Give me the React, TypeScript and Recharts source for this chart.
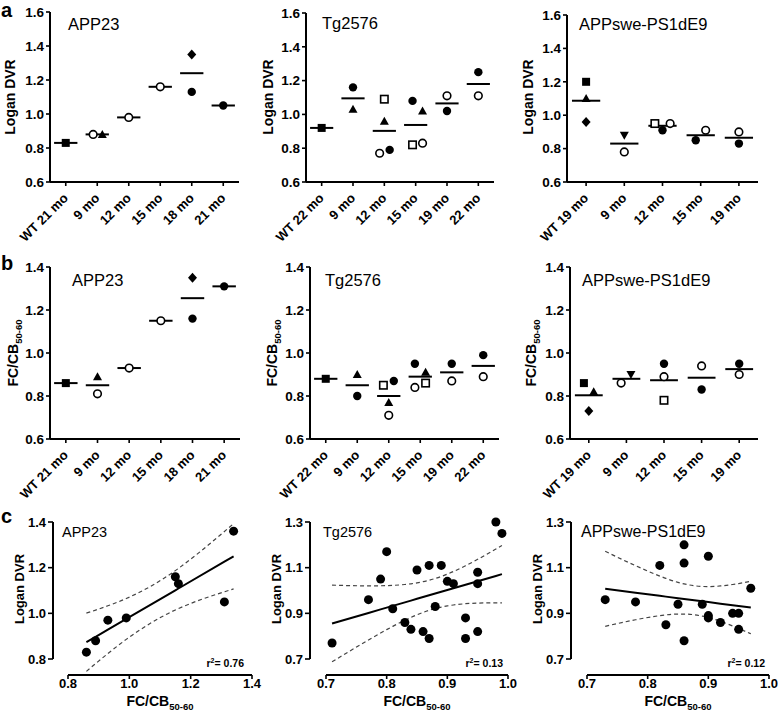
import React from 'react';
import { ScatterChart, ComposedChart, Scatter, Line, XAxis, YAxis, ReferenceLine } from 'recharts';

const FONT = '"Liberation Sans", Arial, Helvetica, sans-serif';

// ---------- categories ----------
const catsAPP23 = ['WT 21 mo', '9 mo', '12 mo', '15 mo', '18 mo', '21 mo'];
const catsTg2576 = ['WT 22 mo', '9 mo', '12 mo', '15 mo', '19 mo', '22 mo'];
const catsAPPswe = ['WT 19 mo', '9 mo', '12 mo', '15 mo', '19 mo'];

// markers: sq filled square, osq open square, ci filled circle, oci open circle,
// tr triangle, itr inverted triangle, di diamond
type Pt = { c: number; o: number; v: number; m: string };

// ---------- panel a: Logan DVR ----------
const dvrAPP23: Pt[] = [
  { c: 0, o: 0, v: 0.83, m: 'sq' },
  { c: 1, o: -0.13, v: 0.88, m: 'oci' }, { c: 1, o: 0.16, v: 0.88, m: 'tr' },
  { c: 2, o: 0, v: 0.98, m: 'oci' },
  { c: 3, o: 0, v: 1.16, m: 'oci' },
  { c: 4, o: 0, v: 1.35, m: 'di' }, { c: 4, o: 0, v: 1.13, m: 'ci' },
  { c: 5, o: 0, v: 1.05, m: 'ci' },
];
const dvrTg2576: Pt[] = [
  { c: 0, o: 0, v: 0.92, m: 'sq' },
  { c: 1, o: 0, v: 1.16, m: 'ci' }, { c: 1, o: 0, v: 1.03, m: 'tr' },
  { c: 2, o: 0, v: 1.09, m: 'osq' }, { c: 2, o: 0, v: 0.96, m: 'tr' },
  { c: 2, o: -0.15, v: 0.77, m: 'oci' }, { c: 2, o: 0.17, v: 0.79, m: 'ci' },
  { c: 3, o: -0.1, v: 1.08, m: 'ci' }, { c: 3, o: 0.22, v: 1.02, m: 'tr' },
  { c: 3, o: -0.1, v: 0.82, m: 'osq' }, { c: 3, o: 0.22, v: 0.83, m: 'oci' },
  { c: 4, o: 0, v: 1.11, m: 'oci' }, { c: 4, o: 0, v: 1.02, m: 'ci' },
  { c: 5, o: 0, v: 1.25, m: 'ci' }, { c: 5, o: 0, v: 1.11, m: 'oci' },
];
const dvrAPPswe: Pt[] = [
  { c: 0, o: 0, v: 1.2, m: 'sq' }, { c: 0, o: 0, v: 1.1, m: 'tr' }, { c: 0, o: 0, v: 0.96, m: 'di' },
  { c: 1, o: 0, v: 0.88, m: 'itr' }, { c: 1, o: 0, v: 0.78, m: 'oci' },
  { c: 2, o: -0.2, v: 0.95, m: 'osq' }, { c: 2, o: 0.2, v: 0.95, m: 'oci' }, { c: 2, o: 0, v: 0.91, m: 'ci' },
  { c: 3, o: -0.13, v: 0.85, m: 'ci' }, { c: 3, o: 0.13, v: 0.91, m: 'oci' },
  { c: 4, o: 0, v: 0.9, m: 'oci' }, { c: 4, o: 0, v: 0.83, m: 'ci' },
];

// ---------- panel b: FC/CB50-60 ----------
const fcAPP23: Pt[] = [
  { c: 0, o: 0, v: 0.86, m: 'sq' },
  { c: 1, o: 0, v: 0.89, m: 'tr' }, { c: 1, o: 0, v: 0.81, m: 'oci' },
  { c: 2, o: 0, v: 0.93, m: 'oci' },
  { c: 3, o: 0, v: 1.15, m: 'oci' },
  { c: 4, o: 0, v: 1.35, m: 'di' }, { c: 4, o: 0, v: 1.16, m: 'ci' },
  { c: 5, o: 0, v: 1.31, m: 'ci' },
];
const fcTg2576: Pt[] = [
  { c: 0, o: 0, v: 0.88, m: 'sq' },
  { c: 1, o: 0, v: 0.9, m: 'tr' }, { c: 1, o: 0, v: 0.8, m: 'ci' },
  { c: 2, o: -0.17, v: 0.85, m: 'osq' }, { c: 2, o: 0.16, v: 0.87, m: 'ci' },
  { c: 2, o: 0, v: 0.77, m: 'tr' }, { c: 2, o: 0, v: 0.71, m: 'oci' },
  { c: 3, o: -0.17, v: 0.95, m: 'ci' }, { c: 3, o: 0.17, v: 0.91, m: 'tr' },
  { c: 3, o: -0.17, v: 0.84, m: 'oci' }, { c: 3, o: 0.17, v: 0.86, m: 'osq' },
  { c: 4, o: 0, v: 0.95, m: 'ci' }, { c: 4, o: 0, v: 0.87, m: 'oci' },
  { c: 5, o: 0, v: 0.99, m: 'ci' }, { c: 5, o: 0, v: 0.89, m: 'oci' },
];
const fcAPPswe: Pt[] = [
  { c: 0, o: -0.13, v: 0.86, m: 'sq' }, { c: 0, o: 0.13, v: 0.82, m: 'tr' }, { c: 0, o: 0, v: 0.73, m: 'di' },
  { c: 1, o: -0.14, v: 0.86, m: 'oci' }, { c: 1, o: 0.12, v: 0.9, m: 'itr' },
  { c: 2, o: 0, v: 0.95, m: 'ci' }, { c: 2, o: 0, v: 0.89, m: 'oci' }, { c: 2, o: 0, v: 0.78, m: 'osq' },
  { c: 3, o: 0, v: 0.94, m: 'oci' }, { c: 3, o: 0, v: 0.83, m: 'ci' },
  { c: 4, o: 0, v: 0.95, m: 'ci' }, { c: 4, o: 0, v: 0.9, m: 'oci' },
];

// ---------- panel c: correlations (x = FC/CB50-60, y = Logan DVR) ----------
const corrAPP23X = [0.86, 0.89, 0.93, 0.99, 1.15, 1.16, 1.31, 1.34];
const corrAPP23Y = [0.83, 0.88, 0.97, 0.98, 1.16, 1.13, 1.05, 1.36];
const corrTgX = [0.71, 0.77, 0.79, 0.8, 0.81, 0.83, 0.84, 0.85, 0.86, 0.87, 0.87, 0.88, 0.89, 0.9, 0.91, 0.93, 0.93, 0.95, 0.95, 0.95, 0.98, 0.99];
const corrTgY = [0.77, 0.96, 1.05, 1.17, 0.92, 0.86, 0.83, 1.09, 0.82, 1.11, 0.79, 0.93, 1.11, 1.04, 1.03, 0.88, 0.79, 1.08, 1.03, 0.82, 1.3, 1.25];
const corrSweX = [0.73, 0.78, 0.82, 0.83, 0.85, 0.86, 0.86, 0.86, 0.89, 0.9, 0.9, 0.9, 0.92, 0.94, 0.95, 0.95, 0.97];
const corrSweY = [0.96, 0.95, 1.11, 0.85, 0.94, 1.2, 1.12, 0.78, 0.94, 1.15, 0.89, 0.88, 0.86, 0.9, 0.9, 0.83, 1.01];
const r2Labels = ['0.76', '0.13', '0.12'];

// ---------- tick values ----------
const ticksA = [0.6, 0.8, 1.0, 1.2, 1.4, 1.6];
const ticksB = [0.6, 0.8, 1.0, 1.2, 1.4];
const ticksC1Y = [0.8, 1.0, 1.2, 1.4];
const ticksC1X = [0.8, 1.0, 1.2, 1.4];
const ticksC23Y = [0.7, 0.9, 1.1, 1.3];
const ticksC23X = [0.7, 0.8, 0.9, 1.0];

// two-sided 95% t values by degrees of freedom
const T95: Record<number, number> = { 6: 2.447, 15: 2.131, 20: 2.086 };

const Marker = (props: any) => {
  const { cx, cy, payload } = props;
  if (cx == null || cy == null) return null;
  switch (payload.m) {
    case 'sq':
      return <rect x={cx - 4} y={cy - 4} width={8} height={8} fill="#000" />;
    case 'osq':
      return <rect x={cx - 3.7} y={cy - 3.7} width={7.4} height={7.4} fill="#fff" stroke="#000" strokeWidth={1.6} />;
    case 'ci':
      return <circle cx={cx} cy={cy} r={4.2} fill="#000" />;
    case 'oci':
      return <circle cx={cx} cy={cy} r={3.8} fill="#fff" stroke="#000" strokeWidth={1.6} />;
    case 'tr':
      return <polygon points={`${cx},${cy - 4.5} ${cx + 4.5},${cy + 3.5} ${cx - 4.5},${cy + 3.5}`} fill="#000" />;
    case 'itr':
      return <polygon points={`${cx - 4.5},${cy - 3.5} ${cx + 4.5},${cy - 3.5} ${cx},${cy + 4.5}`} fill="#000" />;
    case 'di':
      return <polygon points={`${cx},${cy - 5} ${cx + 4.5},${cy} ${cx},${cy + 5} ${cx - 4.5},${cy}`} fill="#000" />;
    default:
      return null;
  }
};

const Dot = (props: any) => {
  const { cx, cy } = props;
  if (cx == null || cy == null) return null;
  return <circle cx={cx} cy={cy} r={4.5} fill="#000" />;
};

const CatTick = (props: any) => {
  const { x, y, payload, cats } = props;
  return (
    <g transform={`translate(${x + 3},${y + 11})`}>
      <text textAnchor="end" transform="rotate(-45)" fontFamily={FONT} fontWeight="bold" fontSize={13} fill="#000">
        {cats[payload.value]}
      </text>
    </g>
  );
};

const yTickStyle = { fontSize: 13.5, fontWeight: 'bold', fill: '#000', fontFamily: FONT };
const cTickStyle = { fontSize: 13, fontWeight: 'bold', fill: '#000', fontFamily: FONT };
const axisStroke = { stroke: '#000', strokeWidth: 2 };
const tickStroke = { stroke: '#000', strokeWidth: 1.6 };

function DotPanel(p: { cats: string[]; pts: Pt[]; left: number; right: number; top: number; bottom: number; yTicks: number[] }) {
  const yw = 50, mt = 10, mr = 14, xh = 70;
  const width = yw + (p.right - p.left) + mr;
  const height = mt + (p.bottom - p.top) + xh;
  const data = p.pts.map((q) => ({ x: q.c + q.o, y: q.v, m: q.m }));
  const means = p.cats.map((_, i) => {
    const vs = p.pts.filter((q) => q.c === i).map((q) => q.v);
    return vs.reduce((a, b) => a + b, 0) / vs.length;
  });
  return (
    <div style={{ position: 'absolute', left: p.left - yw, top: p.top - mt }}>
      <ScatterChart width={width} height={height} margin={{ top: mt, right: mr, left: 0, bottom: 0 }}>
        <XAxis
          type="number"
          dataKey="x"
          domain={[-0.5, p.cats.length - 0.5]}
          ticks={p.cats.map((_, i) => i)}
          interval={0}
          height={xh}
          axisLine={axisStroke}
          tickLine={tickStroke}
          tickSize={4}
          tickMargin={2}
          tick={(tp: any) => <CatTick {...tp} cats={p.cats} />}
        />
        <YAxis
          type="number"
          dataKey="y"
          domain={[p.yTicks[0], p.yTicks[p.yTicks.length - 1]]}
          ticks={p.yTicks}
          interval={0}
          width={yw}
          axisLine={axisStroke}
          tickLine={tickStroke}
          tickSize={4}
          tickMargin={2}
          tick={yTickStyle}
          tickFormatter={(v: number) => v.toFixed(1)}
        />
        {means.map((m, i) => (
          <ReferenceLine key={i} segment={[{ x: i - 0.37, y: m }, { x: i + 0.37, y: m }]} stroke="#000" strokeWidth={2} />
        ))}
        <Scatter data={data} shape={Marker} isAnimationActive={false} />
      </ScatterChart>
    </div>
  );
}

function CorrPanel(p: {
  xs: number[]; ys: number[]; xTicks: number[]; yTicks: number[];
  plotLeft: number; x0px: number; x1px: number; y0px: number; y1px: number; axisY: number;
}) {
  const n = p.xs.length;
  const mx = p.xs.reduce((a, b) => a + b, 0) / n;
  const my = p.ys.reduce((a, b) => a + b, 0) / n;
  let sxx = 0, sxy = 0, syy = 0;
  for (let i = 0; i < n; i++) {
    sxx += (p.xs[i] - mx) ** 2;
    sxy += (p.xs[i] - mx) * (p.ys[i] - my);
    syy += (p.ys[i] - my) ** 2;
  }
  const slope = sxy / sxx;
  const icpt = my - slope * mx;
  const s = Math.sqrt((syy - slope * sxy) / (n - 2));
  const t = T95[n - 2];
  const ux = Array.from(new Set(p.xs)).sort((a, b) => a - b);
  const fitData = ux.map((x) => {
    const f = icpt + slope * x;
    const h = t * s * Math.sqrt(1 / n + (x - mx) ** 2 / sxx);
    return { x, fit: f, lo: f - h, hi: f + h };
  });
  const pts = p.xs.map((x, i) => ({ x, y: p.ys[i] }));

  const xt0 = p.xTicks[0], xt1 = p.xTicks[p.xTicks.length - 1];
  const yt0 = p.yTicks[0], yt1 = p.yTicks[p.yTicks.length - 1];
  const xMin = xt0 - ((p.x0px - p.plotLeft) * (xt1 - xt0)) / (p.x1px - p.x0px);
  const yMin = yt0 - ((p.axisY - p.y1px) * (yt1 - yt0)) / (p.y1px - p.y0px);

  const yw = 45, mt = 10, mr = 14, xh = 30;
  const width = yw + (p.x1px - p.plotLeft) + mr;
  const height = mt + (p.axisY - p.y0px) + xh;
  return (
    <div style={{ position: 'absolute', left: p.plotLeft - yw, top: p.y0px - mt }}>
      <ComposedChart width={width} height={height} data={fitData} margin={{ top: mt, right: mr, left: 0, bottom: 0 }}>
        <XAxis
          type="number"
          dataKey="x"
          domain={[xMin, xt1]}
          ticks={p.xTicks}
          interval={0}
          height={xh}
          axisLine={false}
          tickLine={tickStroke}
          tickSize={4}
          tickMargin={0}
          tick={cTickStyle}
          tickFormatter={(v: number) => v.toFixed(1)}
        />
        <YAxis
          type="number"
          domain={[yMin, yt1]}
          ticks={p.yTicks}
          interval={0}
          width={yw}
          axisLine={false}
          tickLine={tickStroke}
          tickSize={5}
          tickMargin={2}
          tick={cTickStyle}
          tickFormatter={(v: number) => v.toFixed(1)}
        />
        <ReferenceLine segment={[{ x: xMin, y: yt0 }, { x: xMin, y: yt1 }]} stroke="#000" strokeWidth={2} ifOverflow="visible" />
        <ReferenceLine segment={[{ x: xt0, y: yMin }, { x: xt1, y: yMin }]} stroke="#000" strokeWidth={2} ifOverflow="visible" />
        <Line dataKey="hi" type="monotone" stroke="#444" strokeWidth={1.2} strokeDasharray="4 3" dot={false} isAnimationActive={false} />
        <Line dataKey="lo" type="monotone" stroke="#444" strokeWidth={1.2} strokeDasharray="4 3" dot={false} isAnimationActive={false} />
        <Line dataKey="fit" type="linear" stroke="#000" strokeWidth={2} dot={false} isAnimationActive={false} />
        <Scatter data={pts} dataKey="y" shape={Dot} isAnimationActive={false} />
      </ComposedChart>
    </div>
  );
}

const Sub = ({ children }: { children: string }) => (
  <tspan fontSize={9.5} dy={4}>{children}</tspan>
);

function Overlay() {
  const letter = { fontSize: 20, fontWeight: 'bold' as const };
  const title = { fontSize: 16.5 };
  const ytitle = { fontSize: 14, fontWeight: 'bold' as const, textAnchor: 'middle' as const };
  return (
    <svg width={778} height={717} style={{ position: 'absolute', left: 0, top: 0 }} fontFamily={FONT} fill="#000">
      <text x={1} y={17} {...letter}>a</text>
      <text x={1} y={270} {...letter}>b</text>
      <text x={1} y={523} {...letter}>c</text>

      <text x={68} y={30} {...title}>APP23</text>
      <text x={322} y={29} {...title}>Tg2576</text>
      <text x={579} y={30} {...title}>APPswe-PS1dE9</text>
      <text x={72} y={286} {...title}>APP23</text>
      <text x={325} y={286} {...title}>Tg2576</text>
      <text x={582} y={286} {...title}>APPswe-PS1dE9</text>
      <text x={62} y={537} fontSize={14.5}>APP23</text>
      <text x={323} y={537} fontSize={14.5}>Tg2576</text>
      <text x={581} y={537} fontSize={16}>APPswe-PS1dE9</text>

      <text transform="translate(15,97) rotate(-90)" {...ytitle}>Logan DVR</text>
      <text transform="translate(273,97) rotate(-90)" {...ytitle}>Logan DVR</text>
      <text transform="translate(533,97) rotate(-90)" {...ytitle}>Logan DVR</text>

      <text transform="translate(18,353) rotate(-90)" {...ytitle}>FC/CB<Sub>50-60</Sub></text>
      <text transform="translate(277,353) rotate(-90)" {...ytitle}>FC/CB<Sub>50-60</Sub></text>
      <text transform="translate(536,353) rotate(-90)" {...ytitle}>FC/CB<Sub>50-60</Sub></text>

      <text transform="translate(24,589) rotate(-90)" {...ytitle} fontSize={13}>Logan DVR</text>
      <text transform="translate(281,589) rotate(-90)" {...ytitle} fontSize={13}>Logan DVR</text>
      <text transform="translate(542,589) rotate(-90)" {...ytitle} fontSize={13}>Logan DVR</text>

      <text x={160} y={706} {...ytitle}>FC/CB<Sub>50-60</Sub></text>
      <text x={417} y={706} {...ytitle}>FC/CB<Sub>50-60</Sub></text>
      <text x={678} y={706} {...ytitle}>FC/CB<Sub>50-60</Sub></text>

      {[244, 503, 765].map((rx, i) => (
        <text key={i} x={rx} y={667} fontSize={10.5} fontWeight="bold" textAnchor="end">
          r<tspan fontSize={7} dy={-4}>2</tspan><tspan dy={4}>= {r2Labels[i]}</tspan>
        </text>
      ))}
    </svg>
  );
}

export default function App() {
  return (
    <div style={{ position: 'absolute', left: 0, top: 0, width: 778, height: 717, background: '#fff', fontFamily: FONT }}>
      <DotPanel cats={catsAPP23} pts={dvrAPP23} left={50} right={239} top={12} bottom={182} yTicks={ticksA} />
      <DotPanel cats={catsTg2576} pts={dvrTg2576} left={306} right={494} top={13} bottom={182} yTicks={ticksA} />
      <DotPanel cats={catsAPPswe} pts={dvrAPPswe} left={567} right={758} top={15} bottom={182} yTicks={ticksA} />

      <DotPanel cats={catsAPP23} pts={fcAPP23} left={50} right={240} top={267} bottom={439} yTicks={ticksB} />
      <DotPanel cats={catsTg2576} pts={fcTg2576} left={310} right={499} top={267} bottom={439} yTicks={ticksB} />
      <DotPanel cats={catsAPPswe} pts={fcAPPswe} left={570} right={758} top={267} bottom={439} yTicks={ticksB} />

      <CorrPanel xs={corrAPP23X} ys={corrAPP23Y} xTicks={ticksC1X} yTicks={ticksC1Y}
        plotLeft={53} x0px={68} x1px={252} y0px={522} y1px={659} axisY={675} />
      <CorrPanel xs={corrTgX} ys={corrTgY} xTicks={ticksC23X} yTicks={ticksC23Y}
        plotLeft={310} x0px={326} x1px={508} y0px={522} y1px={659} axisY={675} />
      <CorrPanel xs={corrSweX} ys={corrSweY} xTicks={ticksC23X} yTicks={ticksC23Y}
        plotLeft={571} x0px={587} x1px={769} y0px={522} y1px={659} axisY={675} />

      <Overlay />
    </div>
  );
}
